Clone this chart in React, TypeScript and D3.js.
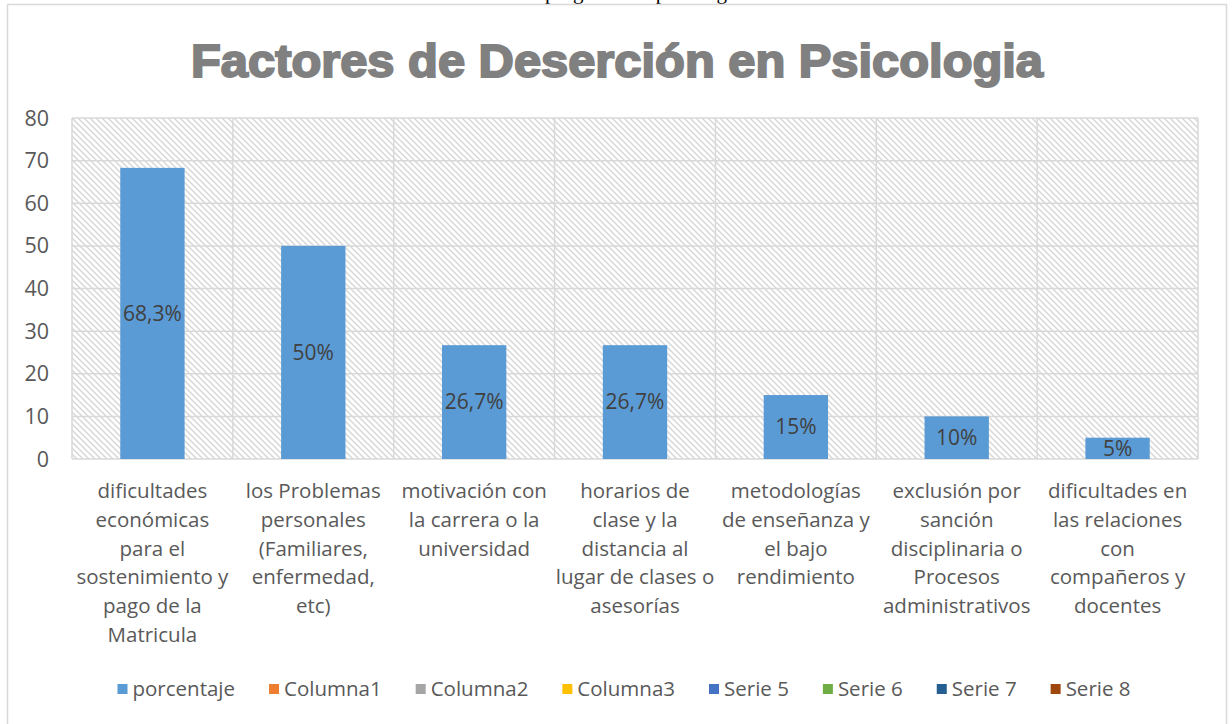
import React, { useEffect, useRef } from 'react';
import * as d3 from 'd3';

// chart data
const categories = [
  'dificultades\neconómicas\npara el\nsostenimiento y\npago de la\nMatricula',
  'los Problemas\npersonales\n(Familiares,\nenfermedad,\netc)',
  'motivación con\nla carrera o la\nuniversidad',
  'horarios de\nclase y la\ndistancia al\nlugar de clases o\nasesorías',
  'metodologías\nde enseñanza y\nel bajo\nrendimiento',
  'exclusión por\nsanción\ndisciplinaria o\nProcesos\nadministrativos',
  'dificultades en\nlas relaciones\ncon\ncompañeros y\ndocentes',
];
const porcentaje = [68.3, 50, 26.7, 26.7, 15, 10, 5];
const dataLabels = ['68,3%', '50%', '26,7%', '26,7%', '15%', '10%', '5%'];
const yTicks = [0, 10, 20, 30, 40, 50, 60, 70, 80];
const legendNames = ['porcentaje', 'Columna1', 'Columna2', 'Columna3', 'Serie 5', 'Serie 6', 'Serie 7', 'Serie 8'];
const legendColors = ['#5B9BD5', '#ED7D31', '#A5A5A5', '#FFC000', '#4472C4', '#70AD47', '#255E91', '#9E480E'];

const W = 1232;
const H = 724;
const FONT = '"Open Sans", "Noto Sans", sans-serif';

const App = () => {
  const ref = useRef<SVGSVGElement>(null);

  useEffect(() => {
    const svg = d3.select(ref.current);
    svg.selectAll('*').remove();

    const margin = { top: 118, left: 72, right: W - 1198, bottom: H - 459 };
    const innerW = W - margin.left - margin.right;
    const innerH = H - margin.top - margin.bottom;

    // hatch pattern for plot background
    const defs = svg.append('defs');
    const pat = defs.append('pattern')
      .attr('id', 'hatch')
      .attr('patternUnits', 'userSpaceOnUse')
      .attr('width', 6)
      .attr('height', 6);
    pat.append('rect').attr('width', 6).attr('height', 6).attr('fill', '#fff');
    pat.append('path')
      .attr('d', 'M-1,-1 L7,7 M-1,5 L1,7 M5,-1 L7,1')
      .attr('stroke', '#d6d6d6')
      .attr('stroke-width', 1.4);

    // caption line of the page above the chart (only its bottom shows)
    svg.append('text')
      .attr('x', 545)
      .attr('y', -1)
      .attr('font-family', '"Liberation Serif", serif')
      .attr('font-size', 21)
      .attr('fill', '#000')
      .text('programa de psicología');

    // outer frame
    svg.append('rect')
      .attr('x', 7.5)
      .attr('y', 4.5)
      .attr('width', 1219)
      .attr('height', H + 10)
      .attr('fill', '#fff')
      .attr('stroke', '#d9d9d9')
      .attr('stroke-width', 1.5);

    // title
    svg.append('text')
      .attr('x', 617)
      .attr('y', 77)
      .attr('text-anchor', 'middle')
      .attr('font-family', '"Liberation Sans", Arial, sans-serif')
      .attr('font-weight', 'bold')
      .attr('font-size', 46)
      .attr('fill', '#808080')
      .attr('stroke', '#808080')
      .attr('stroke-width', 2)
      .attr('textLength', 852)
      .attr('lengthAdjust', 'spacingAndGlyphs')
      .text('Factores de Deserción en Psicologia');

    const g = svg.append('g').attr('transform', `translate(${margin.left},${margin.top})`);

    const x = d3.scaleBand().domain(categories).range([0, innerW]).paddingInner(0).paddingOuter(0);
    const y = d3.scaleLinear().domain([0, 80]).range([innerH, 0]);

    g.append('rect').attr('width', innerW).attr('height', innerH).attr('fill', 'url(#hatch)');

    // horizontal gridlines
    g.selectAll('.hgrid')
      .data(yTicks)
      .enter()
      .append('line')
      .attr('x1', 0)
      .attr('x2', innerW)
      .attr('y1', d => y(d))
      .attr('y2', d => y(d))
      .attr('stroke', '#d9d9d9')
      .attr('stroke-width', 1.5);

    // vertical gridlines at category boundaries
    const bounds = categories.map(c => x(c) as number).concat([innerW]);
    g.selectAll('.vgrid')
      .data(bounds)
      .enter()
      .append('line')
      .attr('x1', d => d)
      .attr('x2', d => d)
      .attr('y1', 0)
      .attr('y2', innerH)
      .attr('stroke', '#d9d9d9')
      .attr('stroke-width', 1.5);

    // y axis labels
    g.selectAll('.ytick')
      .data(yTicks)
      .enter()
      .append('text')
      .attr('x', -23)
      .attr('y', d => y(d))
      .attr('dy', '0.35em')
      .attr('text-anchor', 'end')
      .attr('font-family', FONT)
      .attr('font-size', 21.5)
      .attr('fill', '#595959')
      .text(d => d);

    // bars
    const bw = x.bandwidth() * 0.4;
    g.selectAll('.bar')
      .data(porcentaje)
      .enter()
      .append('rect')
      .attr('x', (d, i) => (x(categories[i]) as number) + (x.bandwidth() - bw) / 2)
      .attr('y', d => y(d))
      .attr('width', bw)
      .attr('height', d => innerH - y(d))
      .attr('fill', '#5B9BD5');

    // data labels, centered in bars
    g.selectAll('.dlabel')
      .data(porcentaje)
      .enter()
      .append('text')
      .attr('x', (d, i) => (x(categories[i]) as number) + x.bandwidth() / 2)
      .attr('y', d => (y(d) + innerH) / 2)
      .attr('dy', '0.35em')
      .attr('text-anchor', 'middle')
      .attr('font-family', FONT)
      .attr('font-size', 21)
      .attr('fill', '#404040')
      .text((d, i) => dataLabels[i]);

    // category labels
    categories.forEach(c => {
      const t = g.append('text')
        .attr('x', (x(c) as number) + x.bandwidth() / 2)
        .attr('y', innerH + 39)
        .attr('text-anchor', 'middle')
        .attr('font-family', FONT)
        .attr('font-size', 20.5)
        .attr('fill', '#595959');
      c.split('\n').forEach((line, i) => {
        t.append('tspan')
          .attr('x', (x(c) as number) + x.bandwidth() / 2)
          .attr('dy', i === 0 ? 0 : 28.8)
          .text(line);
      });
    });

    // legend, centered
    const leg = svg.append('g');
    const items = leg.selectAll('.li')
      .data(legendNames)
      .enter()
      .append('g');
    items.append('rect')
      .attr('width', 10)
      .attr('height', 10)
      .attr('y', -5)
      .attr('fill', (d, i) => legendColors[i]);
    items.append('text')
      .attr('x', 15)
      .attr('dy', '0.35em')
      .attr('font-family', FONT)
      .attr('font-size', 20.5)
      .attr('fill', '#595959')
      .text(d => d);
    let cx = 0;
    items.each(function () {
      const node = d3.select(this);
      const tw = (node.select('text').node() as SVGTextElement).getComputedTextLength();
      node.attr('transform', `translate(${cx},0)`);
      cx += 15 + tw + 34;
    });
    const total = cx - 34;
    leg.attr('transform', `translate(${624 - total / 2},689)`);
  }, []);

  return (
    <svg
      ref={ref}
      width={W}
      height={H}
      style={{ position: 'absolute', left: 0, top: 0, background: '#fff' }}
    />
  );
};

export default App;
